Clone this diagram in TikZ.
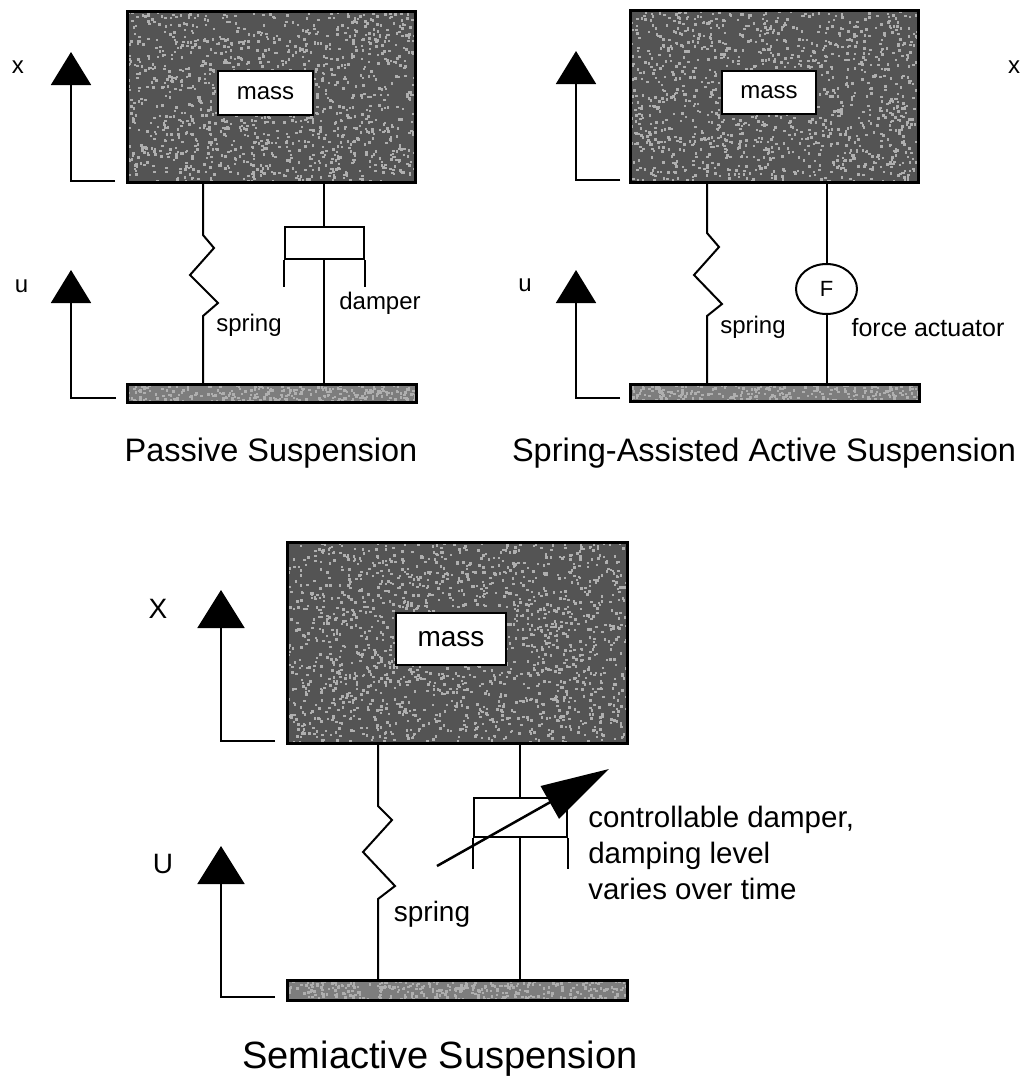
\documentclass[tikz,border=0pt]{standalone}
\usepackage{fontspec}
\setmainfont{Liberation Sans}
\usetikzlibrary{arrows.meta,shapes.geometric}
\definecolor{massgray}{RGB}{84,84,84}
\definecolor{basegray}{RGB}{125,125,125}
\definecolor{specklegray}{RGB}{175,175,175}
\tikzset{
  speckled/.style 2 args={path picture={
    \foreach \i in {1,...,#1} {
      \fill[specklegray] ([shift={(rand*185,rand*#2)}]path picture bounding box.center) rectangle ++(2.5,2.5);
    }}},
  massblock/.style={draw,line width=3pt,fill=massgray,inner sep=0pt,speckled={2000}{110}},
  groundbar/.style={draw,line width=3pt,fill=basegray,inner sep=0pt,speckled={500}{12}},
  masslabel/.style={draw,line width=2pt,fill=white,inner sep=0pt},
  dampbox/.style={draw,line width=2pt,fill=white,inner sep=0pt},
  liftarrow/.style={line width=2pt,-{Triangle[length=33pt,width=40pt]}},
  small/.style={font=\fontsize{24}{28}\selectfont},
  mid/.style={font=\fontsize{28}{36}\selectfont},
  caption/.style={font=\fontsize{32.5}{38}\selectfont}
}
\begin{document}
\begin{tikzpicture}[x=1pt,y=-1pt,line width=2pt]
\useasboundingbox (0,0) rectangle (1022,1079);
% passive
\pgfmathsetseed{11}
\node[massblock,minimum width=288pt,minimum height=171pt] (pmass) at (271,97) {};
\node[masslabel,small,minimum width=95pt,minimum height=44pt] (pmasstxt) at (265.5,93) {mass};
\node[groundbar,minimum width=289pt,minimum height=18pt] (pground) at (271.5,393) {};
\coordinate (pxfoot) at (115,181);
\coordinate (pxtip) at (71,52);
\coordinate (pufoot) at (116,398);
\coordinate (putip) at (71,270);
\draw[liftarrow] (pxfoot) -| (pxtip);
\draw[liftarrow] (pufoot) -| (putip);
\node[small] (pxlab) at (18,67) {x};
\node[small] (pulab) at (21.5,286) {u};
\coordinate (pspringtop) at (203,183);
\coordinate (pspringbot) at (203,384);
\draw (pspringtop) -- (203,235) -- (214,248) -- (190,275) -- (218,303) -- (203,316) -- (pspringbot);
\node[dampbox,minimum width=79pt,minimum height=32pt] (pdamp) at (324,243) {};
\draw (pdamp.north |- pmass.south) -- (pdamp.north);
\draw (pdamp.south) -- (pdamp.south |- pground.north);
\draw (pdamp.south west) -- ++(0,27);
\draw (pdamp.south east) -- ++(0,27);
\node[small] (pspringlab) at (249,325) {spring};
\node[small] (pdamplab) at (380,303) {damper};
\node[caption] (ptitle) at (271,453) {Passive Suspension};
% spring-assisted active
\node[massblock,minimum width=288pt,minimum height=172pt] (amass) at (774,96) {};
\node[masslabel,small,minimum width=94pt,minimum height=43pt] (amasstxt) at (769,92.5) {mass};
\node[groundbar,minimum width=289pt,minimum height=17pt] (aground) at (774.5,392.5) {};
\coordinate (axfoot) at (620,180);
\coordinate (axtip) at (576,51);
\coordinate (aufoot) at (620,398);
\coordinate (autip) at (576,270);
\draw[liftarrow] (axfoot) -| (axtip);
\draw[liftarrow] (aufoot) -| (autip);
\node[small] (axlab) at (1014,67) {x};
\node[small] (aulab) at (525,285) {u};
\coordinate (aspringtop) at (707,182);
\coordinate (aspringbot) at (707,384);
\draw (aspringtop) -- (707,233) -- (719,247) -- (694,275) -- (722,304) -- (707,316) -- (aspringbot);
\node[ellipse,draw,line width=2pt,minimum width=61pt,minimum height=50pt,inner sep=0pt,font=\fontsize{22}{26}\selectfont] (aforce) at (826.5,289) {F};
\draw (aforce.north |- amass.south) -- (aforce.north);
\draw (aforce.south) -- (aforce.south |- aground.north);
\node[small] (aspringlab) at (753,327) {spring};
\node[small,font=\fontsize{25}{28}\selectfont] (aforcelab) at (928,328) {force actuator};
\node[caption] (atitle) at (764,453) {Spring-Assisted Active Suspension};
% semiactive
\node[massblock,minimum width=340pt,minimum height=201pt] (smass) at (457,642.5) {};
\node[masslabel,mid,minimum width=110pt,minimum height=52pt] (smasstxt) at (451,639) {mass};
\node[groundbar,minimum width=340pt,minimum height=20pt] (sground) at (457,990) {};
\coordinate (sxfoot) at (275,741);
\coordinate (sxtip) at (221,590);
\coordinate (sufoot) at (275,997);
\coordinate (sutip) at (221,846);
\draw[liftarrow,-{Triangle[length=38pt,width=47pt]}] (sxfoot) -| (sxtip);
\draw[liftarrow,-{Triangle[length=38pt,width=47pt]}] (sufoot) -| (sutip);
\node[mid] (sxlab) at (158,609) {X};
\node[mid] (sulab) at (163,864) {U};
\coordinate (sspringtop) at (378,743);
\coordinate (sspringbot) at (378,980);
\draw (sspringtop) -- (378,806) -- (392,820) -- (363,852) -- (395,886) -- (378,899) -- (sspringbot);
\node[dampbox,minimum width=93pt,minimum height=39pt] (sdamp) at (520,817.5) {};
\draw (sdamp.north |- smass.south) -- (sdamp.north);
\draw (sdamp.south) -- (sdamp.south |- sground.north);
\draw (sdamp.south west) -- ++(0,31);
\draw (sdamp.south east) -- ++(0,31);
\coordinate (stail) at (437,866);
\coordinate (shead) at (609,769);
\draw[line width=2.5pt,-{Triangle[length=68pt,width=37pt]}] (stail) -- (shead);
\node[mid] (sspringlab) at (432,914) {spring};
\node[mid,font=\fontsize{29.5}{36}\selectfont,align=left,anchor=north west] (sctrl) at (584,802) {controllable damper,\\damping level\\varies over time};
\node[caption,font=\fontsize{38}{44}\selectfont] (stitle) at (440,1059) {Semiactive Suspension};
\end{tikzpicture}
\end{document}
